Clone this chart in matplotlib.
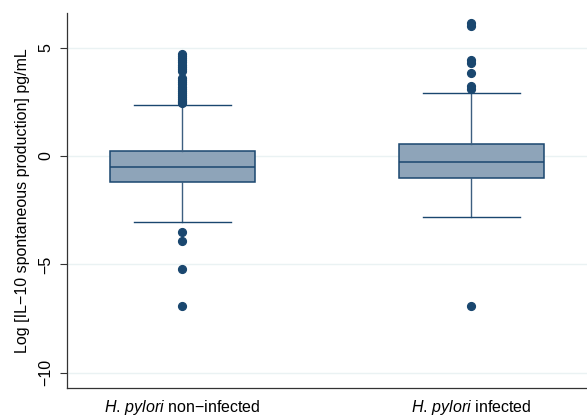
import matplotlib
matplotlib.use("Agg")
import matplotlib.pyplot as plt

plt.rcParams['font.family'] = ['Liberation Sans', 'DejaVu Sans']
plt.rcParams['mathtext.fontset'] = 'custom'
plt.rcParams['mathtext.rm'] = 'Liberation Sans'
plt.rcParams['mathtext.it'] = 'Liberation Sans:italic'

categories = [r"$\it{H.\,pylori}$" + " non\u2212infected", r"$\it{H.\,pylori}$" + " infected"]
q1 = [-1.2, -1.02]
med = [-0.52, -0.29]
q3 = [0.25, 0.55]
whislo = [-3.06, -2.8]
whishi = [2.37, 2.92]
fliers = [
    [2.45, 2.5, 2.55, 2.62, 2.7, 2.8, 2.9, 3.0, 3.1, 3.2, 3.3, 3.42, 3.52, 3.62,
     3.9, 4.0, 4.1, 4.2, 4.32, 4.42, 4.52, 4.62, 4.72, -3.52, -3.91, -5.2, -6.93],
    [6.15, 6.02, 4.45, 4.3, 3.82, 3.22, 3.08, -6.91],
]
yticks = [-10, -5, 0, 5]
ylabel = "Log [IL\u221210 spontaneous production] pg/mL"

navy = '#1a476f'
fig = plt.figure(figsize=(5.87, 4.17), dpi=100)
ax = fig.add_axes([0.114, 0.0695, 0.886, 0.8995])

stats = []
for i in range(2):
    stats.append(dict(med=med[i], q1=q1[i], q3=q3[i], whislo=whislo[i],
                      whishi=whishi[i], fliers=fliers[i], label=categories[i]))

ax.bxp(stats, positions=[1, 2], widths=0.5, patch_artist=True,
       boxprops=dict(facecolor='#8ea4b9', edgecolor=navy, linewidth=1.1),
       medianprops=dict(color=navy, linewidth=1.1),
       whiskerprops=dict(color='#3d5f80', linewidth=1.0),
       capprops=dict(color=navy, linewidth=1.0),
       capwidths=0.335,
       flierprops=dict(marker='o', markerfacecolor=navy, markeredgecolor=navy,
                       markersize=5.6, linestyle='none'))

ax.set_xlim(0.6, 2.4)
ax.set_ylim(-10.7, 6.6)
ax.set_yticks(yticks)
ax.set_yticklabels([str(t).replace('-', '\u2212') for t in yticks], rotation=90, va='center')
ax.yaxis.grid(True, color='#eaf2f3', linewidth=1.0)
ax.set_axisbelow(True)
ax.tick_params(axis='y', labelsize=11.5, length=5, width=0.8, color='#333333', pad=5)
ax.tick_params(axis='x', labelsize=11.5, length=0, pad=7)
ax.set_ylabel(ylabel, fontsize=11.5, labelpad=6)
for s in ['top', 'right']:
    ax.spines[s].set_visible(False)
for s in ['left', 'bottom']:
    ax.spines[s].set_color('#333333')
    ax.spines[s].set_linewidth(0.9)

fig.savefig('out.png', dpi=100)
